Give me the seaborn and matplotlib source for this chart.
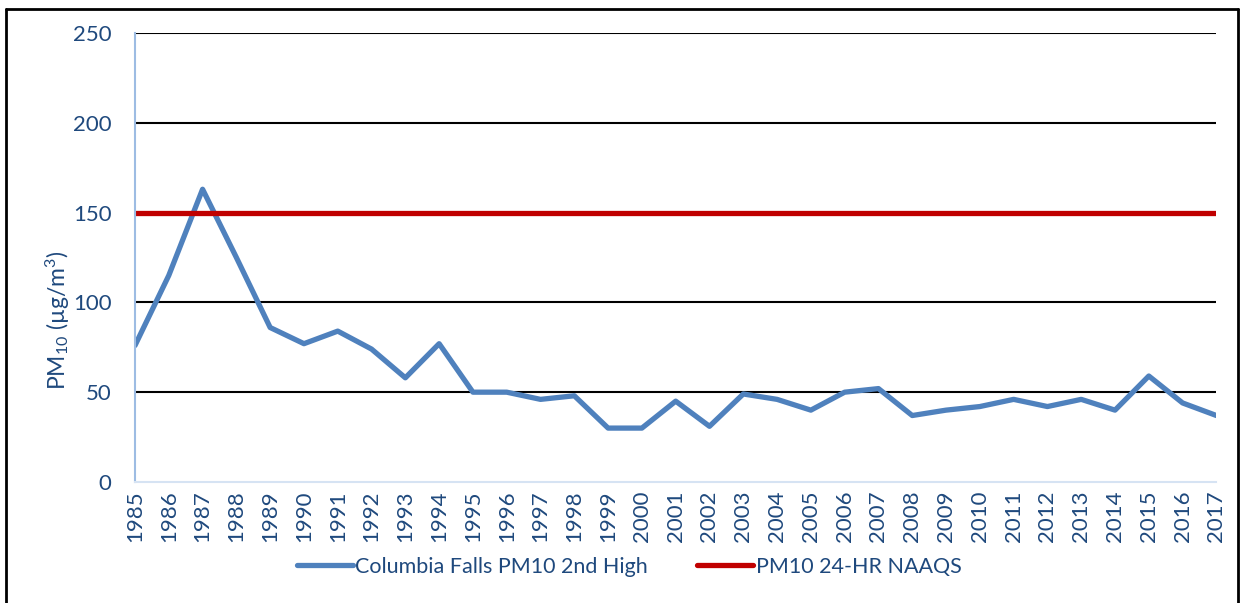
#!/usr/bin/env python3

import pandas as pd
import seaborn as sns
import matplotlib.pyplot as plt
from matplotlib.lines import Line2D

years = list(range(1985, 2018))
second_high = [76, 115, 163, 125, 86, 77, 84, 74, 58, 77,
               50, 50, 46, 48, 30, 30, 45, 31, 49, 46,
               40, 50, 52, 37, 40, 42, 46, 42, 46, 40,
               59, 44, 37]
naaqs = [150] * len(years)

series_names = ['Columbia Falls PM10 2nd High', 'PM10 24-HR NAAQS']
text_color = '#1F497D'


def generate_image():
    df = pd.DataFrame({'year': years, series_names[0]: second_high, series_names[1]: naaqs})
    long = df.melt(id_vars='year', var_name='series', value_name='pm10')

    sns.set_style('white')
    plt.rcParams['font.family'] = ['Lato', 'DejaVu Sans']
    plt.rcParams['mathtext.fontset'] = 'custom'
    plt.rcParams['mathtext.rm'] = 'Lato'
    plt.rcParams['mathtext.default'] = 'regular'

    f = plt.figure(figsize=(12.43, 6.03), dpi=100)
    ax = f.add_axes([0.1086, 0.2007, 0.8700, 0.7446])
    sns.lineplot(x='year', y='pm10', hue='series', data=long, ax=ax,
                 palette=['#4F81BD', '#C00000'], linewidth=3.8, legend=True)

    ax.set_xlim(1985, 2017)
    ax.set_ylim(0, 250)
    ax.set_yticks([0, 50, 100, 150, 200, 250])
    ax.set_xticks(years)
    ax.set_xticklabels([str(y) for y in years], rotation=90)
    for y in [50, 100, 200, 250]:
        ax.axhline(y, color='black', linewidth=1.5, zorder=0)
    ax.tick_params(axis='both', length=0, labelsize=16, colors=text_color)
    ax.tick_params(axis='y', pad=17)
    ax.tick_params(axis='x', pad=6)

    for s in ['top', 'right']:
        ax.spines[s].set_visible(False)
    ax.spines['left'].set_color('#9DBCE3')
    ax.spines['left'].set_linewidth(1.5)
    ax.spines['bottom'].set_color('#D6E3F3')
    ax.spines['bottom'].set_linewidth(1.5)

    ax.set_xlabel('')
    ax.set_ylabel('PM$_{10}$ (µg/m$^3$)', fontsize=16.5, color=text_color)
    ax.yaxis.set_label_coords(-0.058, 0.36)

    handles, labels = ax.get_legend_handles_labels()
    ax.legend(handles, labels, loc='center', bbox_to_anchor=(0.457, -0.189),
              ncol=2, frameon=False, fontsize=15.5, labelcolor=text_color,
              handlelength=2.6, columnspacing=2.3, handletextpad=0.1)

    # frame of the figure box
    for xs, ys in [([0.005, 0.005], [0, 0.985]), ([0.005, 0.996], [0.985, 0.985]),
                   ([0.996, 0.996], [0, 0.985])]:
        f.add_artist(Line2D(xs, ys, color='black', linewidth=2, transform=f.transFigure))

    f.savefig('out.png', dpi=100)


if __name__ == "__main__":
    generate_image()
